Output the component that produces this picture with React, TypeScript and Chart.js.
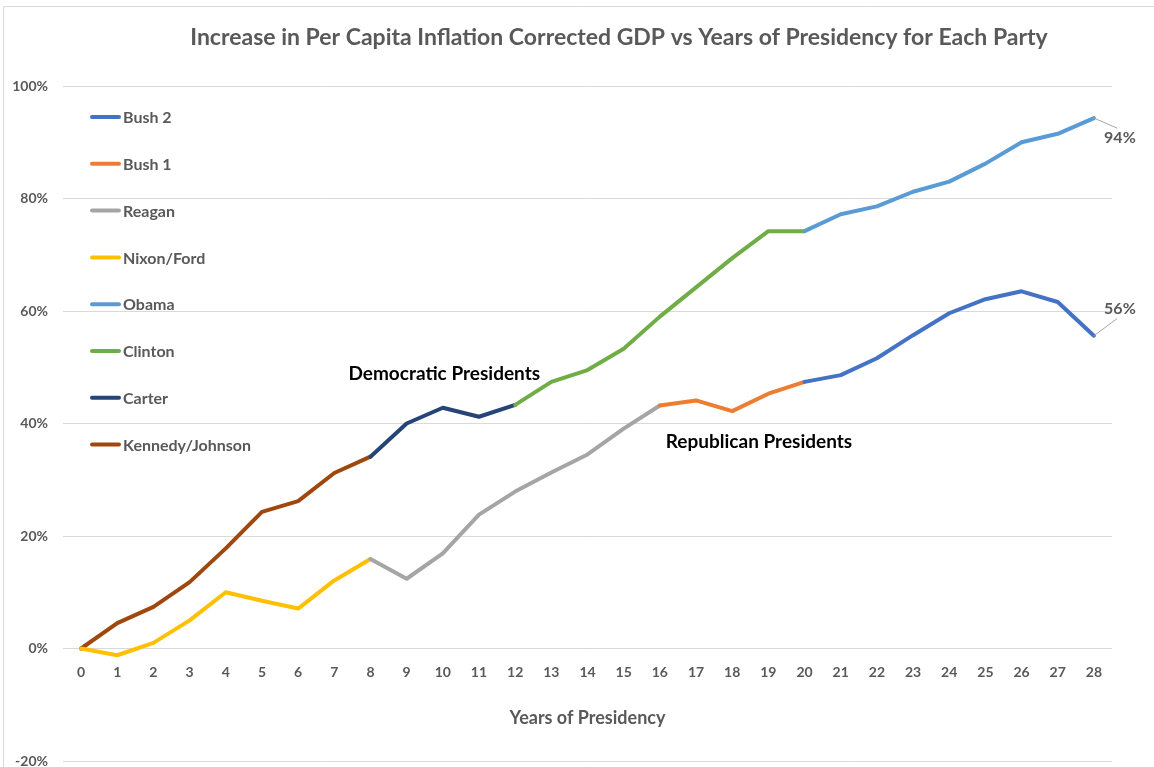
import React, { useEffect, useRef } from 'react';
import { Chart, registerables } from 'chart.js';

Chart.register(...registerables);

const chartTitle = 'Increase in Per Capita Inflation Corrected GDP vs Years of Presidency for Each Party';
const xAxisTitle = 'Years of Presidency';

const years = [0, 1, 2, 3, 4, 5, 6, 7, 8, 9, 10, 11, 12, 13, 14, 15, 16, 17, 18, 19, 20, 21, 22, 23, 24, 25, 26, 27, 28];

// Values in percent, each series begins at its start year
const bush2 = [47.4, 48.6, 51.6, 55.7, 59.6, 62.1, 63.5, 61.6, 55.6];
const bush1 = [43.2, 44.1, 42.2, 45.3, 47.4];
const reagan = [15.9, 12.4, 16.9, 23.8, 27.9, 31.3, 34.5, 39.1, 43.2];
const nixonFord = [0, -1.2, 1.0, 5.0, 10.0, 8.5, 7.1, 12.1, 15.9];
const obama = [74.2, 77.2, 78.6, 81.2, 83.0, 86.2, 90.0, 91.5, 94.3];
const clinton = [43.3, 47.4, 49.5, 53.3, 59.0, 64.2, 69.4, 74.2, 74.2];
const carter = [34.1, 40.0, 42.8, 41.2, 43.3];
const kennedyJohnson = [0, 4.5, 7.4, 11.8, 17.8, 24.3, 26.2, 31.2, 34.1];

const seriesNames = ['Bush 2', 'Bush 1', 'Reagan', 'Nixon/Ford', 'Obama', 'Clinton', 'Carter', 'Kennedy/Johnson'];
const seriesValues = [bush2, bush1, reagan, nixonFord, obama, clinton, carter, kennedyJohnson];
const seriesStarts = [20, 16, 8, 0, 20, 12, 8, 0];
const seriesColors = ['#4472C4', '#ED7D31', '#A5A5A5', '#FFC000', '#5B9BD5', '#70AD47', '#264478', '#9E480E'];

const groupLabels = ['Democratic Presidents', 'Republican Presidents'];
const groupLabelX = [10.04, 18.74];
const groupLabelY = [48.9, 36.7];

const endLabelSeries = [4, 0];

const yMin = -20;
const yMax = 100;
const yStep = 20;

const FONT = 'Lato, "Open Sans", sans-serif';
const GRAY = '#595959';

function App() {
  const canvasRef = useRef<HTMLCanvasElement | null>(null);

  useEffect(() => {
    document.body.style.margin = '0';
    const canvas = canvasRef.current;
    if (!canvas) return;

    const datasets = seriesNames.map((name, i) => ({
      label: name,
      data: years.map((yr) => {
        const idx = yr - seriesStarts[i];
        return idx >= 0 && idx < seriesValues[i].length ? seriesValues[i][idx] : null;
      }),
      borderColor: seriesColors[i],
      backgroundColor: seriesColors[i],
      borderWidth: 4,
      pointRadius: 0,
      pointHoverRadius: 0,
      tension: 0,
      fill: false,
      spanGaps: false,
      borderCapStyle: 'round' as const,
      borderJoinStyle: 'round' as const,
    }));

    const decorPlugin = {
      id: 'decor',
      beforeDraw(chart: any) {
        const ctx = chart.ctx;
        ctx.save();
        ctx.strokeStyle = '#d9d9d9';
        ctx.lineWidth = 1;
        ctx.beginPath();
        ctx.moveTo(3.5, chart.height);
        ctx.lineTo(3.5, 6.5);
        ctx.lineTo(chart.width, 6.5);
        ctx.stroke();
        ctx.restore();
      },
      afterDraw(chart: any) {
        const ctx = chart.ctx;
        const area = chart.chartArea;
        const xs = chart.scales.x;
        const ys = chart.scales.y;
        ctx.save();
        // Title
        ctx.fillStyle = GRAY;
        ctx.font = `bold 23px ${FONT}`;
        ctx.textAlign = 'center';
        ctx.textBaseline = 'middle';
        ctx.fillText(chartTitle, 619, 38);

        // Legend
        ctx.font = `bold 16px ${FONT}`;
        ctx.textAlign = 'left';
        seriesNames.forEach((name, i) => {
          const cy = area.top + 31 + i * 46.8;
          const lx = area.left + 29;
          ctx.strokeStyle = seriesColors[i];
          ctx.lineWidth = 4;
          ctx.lineCap = 'round';
          ctx.beginPath();
          ctx.moveTo(lx, cy);
          ctx.lineTo(lx + 27, cy);
          ctx.stroke();
          ctx.fillStyle = GRAY;
          ctx.fillText(name, lx + 31, cy + 1);
        });

        // Group labels
        ctx.fillStyle = '#000000';
        ctx.font = `bold 19px ${FONT}`;
        ctx.textAlign = 'center';
        groupLabels.forEach((t, i) => {
          ctx.fillText(t, xs.getPixelForValue(groupLabelX[i]), ys.getPixelForValue(groupLabelY[i]));
        });

        // End labels with leader lines
        ctx.font = `bold 16px ${FONT}`;
        endLabelSeries.forEach((si, k) => {
          const meta = chart.getDatasetMeta(si);
          const last = years.length - 1;
          const pt = meta.data[last];
          const v = seriesValues[si][seriesValues[si].length - 1];
          const down = k === 0;
          const ex = pt.x + 23;
          const ey = down ? pt.y + 10 : pt.y - 17;
          ctx.strokeStyle = '#a6a6a6';
          ctx.lineWidth = 1;
          ctx.beginPath();
          ctx.moveTo(pt.x, pt.y);
          ctx.lineTo(ex, ey);
          ctx.stroke();
          ctx.fillStyle = GRAY;
          ctx.fillText(Math.round(v) + '%', pt.x + 26, down ? pt.y + 20 : pt.y - 27);
        });
        ctx.restore();
      },
    };

    const chart = new Chart(canvas, {
      type: 'line',
      data: { labels: years.map(String), datasets },
      plugins: [decorPlugin],
      options: {
        responsive: false,
        animation: false,
        layout: { padding: { top: 86, left: 0, right: 42, bottom: 6 } },
        plugins: {
          legend: { display: false },
          tooltip: { enabled: false },
          title: { display: false },
        },
        scales: {
          x: {
            type: 'category',
            offset: true,
            position: { y: 0 },
            grid: { display: false },
            border: { display: false },
            ticks: {
              color: GRAY,
              font: { family: FONT, size: 14, weight: 'bold' },
              padding: 8,
              maxRotation: 0,
              autoSkip: false,
            },
            title: {
              display: true,
              text: xAxisTitle,
              color: GRAY,
              font: { family: FONT, size: 18, weight: 'bold' },
              padding: { top: 18, bottom: 0 },
            },
          },
          y: {
            min: yMin,
            max: yMax,
            grid: { color: '#d9d9d9', lineWidth: 1, drawTicks: false },
            border: { display: false },
            ticks: {
              stepSize: yStep,
              color: GRAY,
              font: { family: FONT, size: 14, weight: 'bold' },
              padding: 15,
              callback: (v: any) => v + '%',
            },
            afterFit: (s: any) => {
              s.width = 63;
              s.paddingTop = 0;
              s.paddingBottom = 0;
            },
          },
        },
      } as any,
    });

    return () => chart.destroy();
  }, []);

  return <canvas ref={canvasRef} width={1154} height={767} style={{ display: 'block' }} />;
}

export default App;
